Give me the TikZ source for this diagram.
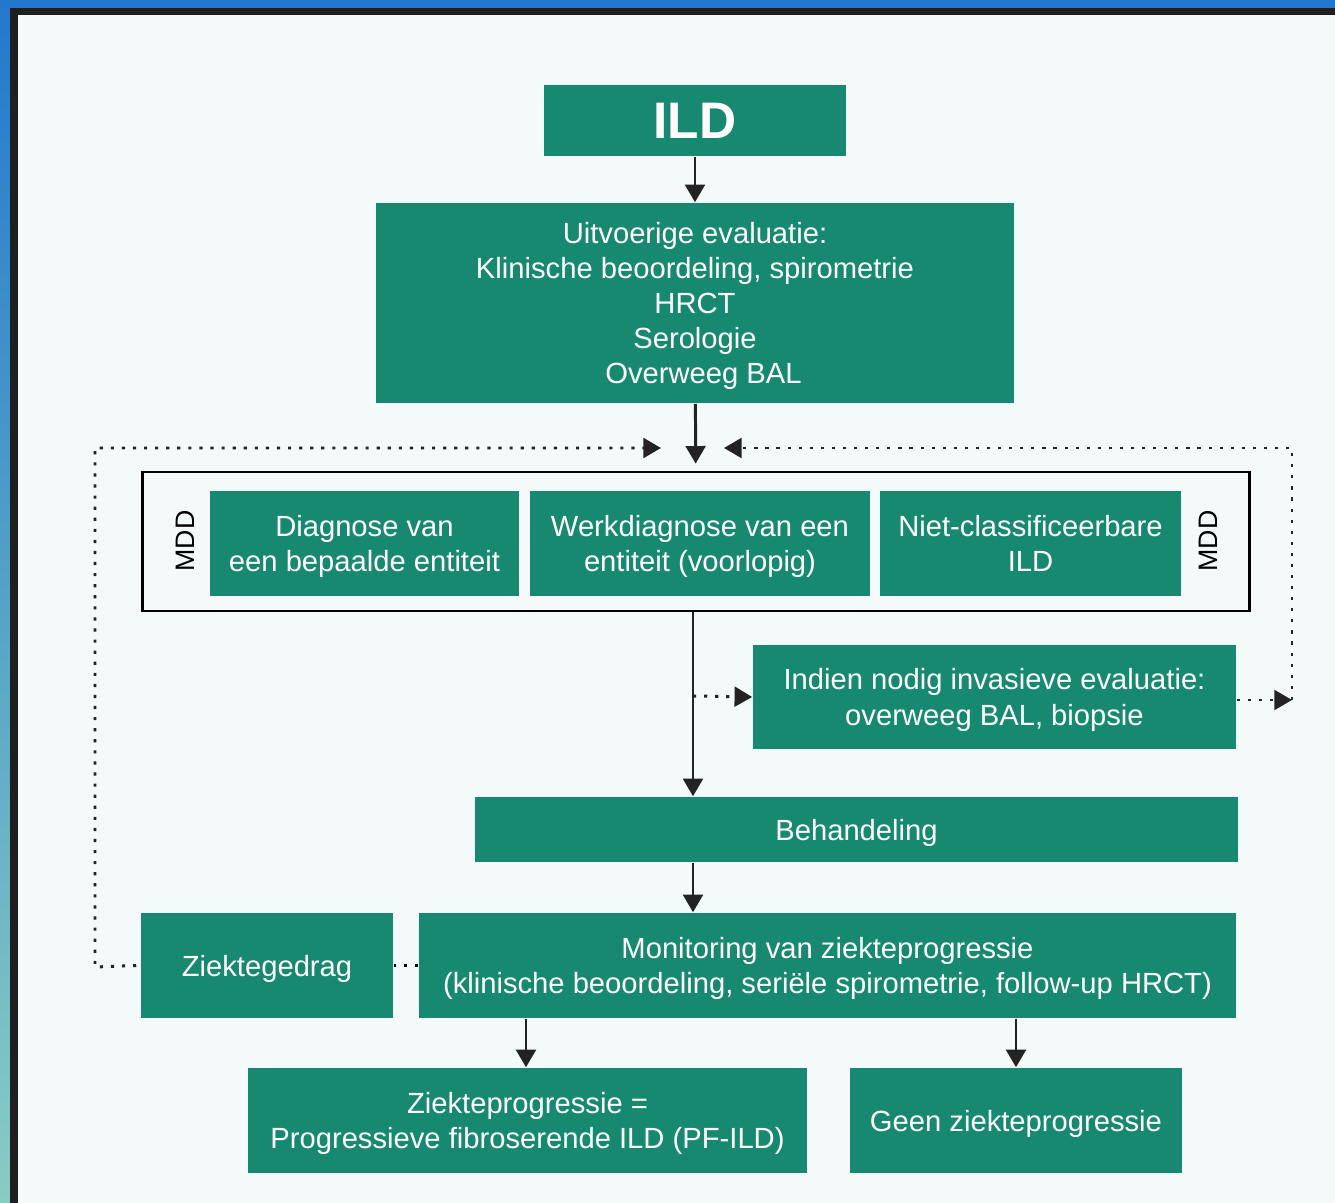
\documentclass[tikz,border=0pt]{standalone}
\usepackage{fontspec}
\setmainfont{Liberation Sans}
\usetikzlibrary{arrows.meta}
\definecolor{ildgreen}{RGB}{24,137,113}
\definecolor{paneltint}{RGB}{244,249,250}
\definecolor{tipgray}{RGB}{35,35,35}
\tikzset{
	box/.style={fill=ildgreen, text=white, inner sep=0pt, align=center, font=\fontsize{8.3}{10}\selectfont, text depth=-2pt},
	arr/.style={-{Triangle[length=5pt,width=5.6pt]}, line width=0.85pt, draw=tipgray},
	dotline/.style={line width=0.9pt, dash pattern=on 0.9pt off 2.25pt},
}
\begin{document}
\begin{tikzpicture}[x=0.01cm, y=-0.01cm]
			%%%%% START %%%%%
			\useasboundingbox (0,0) rectangle (1335,1203);
			
			\shade[top color={rgb,255:red,35;green,120;blue,205}, bottom color={rgb,255:red,135;green,205;blue,195}] (0,0) rectangle (1335,1203);
			\fill[black!88] (10,8) rectangle (1335,1203);
			\fill[paneltint] (18,15) rectangle (1335,1203);
			
			\node[box, text depth=0pt, minimum width=3.02cm, minimum height=0.71cm, font=\fontsize{14.6}{16}\selectfont\bfseries] (ild) at (695,120.5) {ILD};
			\node[box, minimum width=6.38cm, minimum height=2cm] (eval) at (695,303) {Uitvoerige evaluatie:\\Klinische beoordeling, spirometrie\\HRCT\\Serologie\\\hspace*{0.17cm}Overweeg BAL};
			
			\node[draw=black, line width=0.75pt, minimum width=11.06cm, minimum height=1.39cm, inner sep=0pt] (mdd) at (696,541.5) {};
			\node[rotate=90, font=\fontsize{7.6}{9}\selectfont] (mddL) at (185,541) {MDD};
			\node[rotate=90, font=\fontsize{7.6}{9}\selectfont] (mddR) at (1208,541) {MDD};
			\node[box, minimum width=3.09cm, minimum height=1.05cm] (diag) at (364.5,543.5) {Diagnose van\\een bepaalde entiteit};
			\node[box, minimum width=3.40cm, minimum height=1.05cm] (werk) at (700,543.5) {Werkdiagnose van een\\entiteit (voorlopig)};
			\node[box, minimum width=3.01cm, minimum height=1.05cm] (niet) at (1030.5,543.5) {Niet-classificeerbare\\ILD};
			
			\node[box, minimum width=4.83cm, minimum height=1.04cm] (inv) at (994.5,697) {Indien nodig invasieve evaluatie:\\overweeg BAL, biopsie};
			\node[box, minimum width=7.63cm, minimum height=0.65cm] (beh) at (856.5,829.5) {Behandeling};
			\node[box, minimum width=2.52cm, minimum height=1.05cm] (gedrag) at (267,965.5) {Ziektegedrag};
			\node[box, minimum width=8.17cm, minimum height=1.05cm] (mon) at (827.5,965.5) {Monitoring van ziekteprogressie\\(klinische beoordeling, seriële spirometrie, follow-up HRCT)};
			\node[box, minimum width=5.59cm, minimum height=1.05cm] (pf) at (527.5,1120.5) {Ziekteprogressie =\\Progressieve fibroserende ILD (PF-ILD)};
			\node[box, minimum width=3.32cm, minimum height=1.05cm] (geen) at (1016,1120.5) {Geen ziekteprogressie};
			
			\coordinate (inL) at (661,448);
			\coordinate (inR) at (724,448);
			\coordinate (split) at (693,696);
			\coordinate (turnR) at (1292,700);
			
			\draw[arr] (ild) -- (eval);
			\draw[arr, shorten >=2pt] (eval) -- (mdd);
			\draw[arr] (mdd.south -| split) -- (beh.north -| split);
			\draw[arr] (beh.south -| split) -- (mon.north -| split);
			\draw[arr] (mon.south -| 526,0) -- (pf.north -| 526,0);
			\draw[arr] (mon.south -| geen) -- (geen.north);
			
			\draw[dotline, arr] (split) -- (inv.west);
			\draw[dotline, arr] (inv.east |- turnR) -- (turnR);
			\draw[dotline, arr] (turnR) |- (inR);
			\draw[dotline, arr] (gedrag.west) ++(-4,0) -- (95,967) |- (inL);
			\draw[dotline] (mon.west) -- (gedrag.east);
			%%%%% END %%%%%
\end{tikzpicture}
\end{document}
